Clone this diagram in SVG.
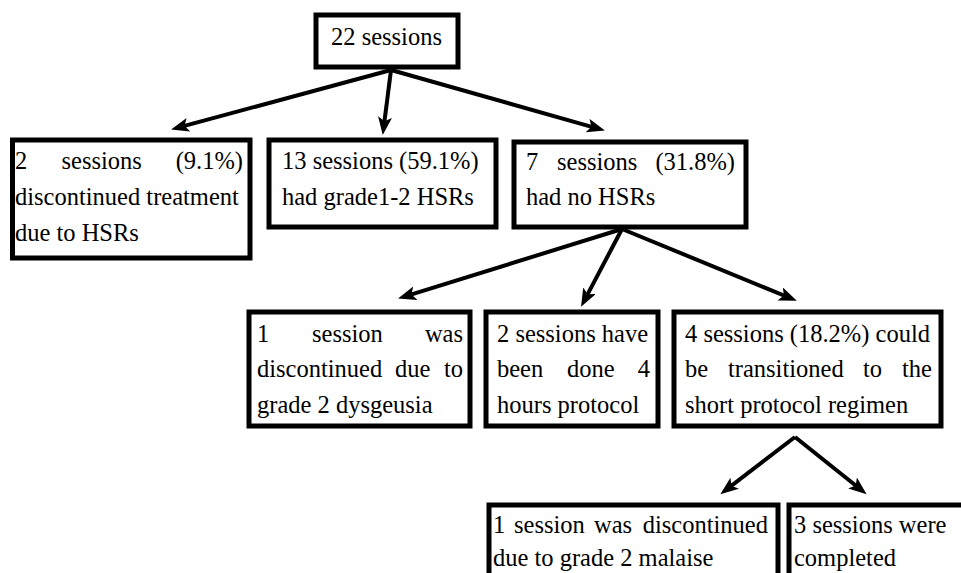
<svg xmlns="http://www.w3.org/2000/svg" width="961" height="573" viewBox="0 0 961 573">
<defs>
<style>
.box{fill:#fff;stroke:#000;stroke-width:5}
.t{font-family:"Liberation Serif","Times New Roman",serif;font-size:24.5px;fill:#000}
.e{text-anchor:end}
.c{fill:none;stroke:#000;stroke-width:4}
</style>
<marker id="ah" markerUnits="userSpaceOnUse" markerWidth="20" markerHeight="16" refX="8" refY="7" orient="auto">
<path d="M0,0 L18,7 L0,14 L4,7 z" fill="#000"/>
</marker>
</defs>
<rect width="961" height="573" fill="#fff"/>

<g id="connectors">
<line class="c" x1="391" y1="70" x2="180.7" y2="126.9" marker-end="url(#ah)"/>
<line class="c" x1="391" y1="70" x2="384" y2="125.1" marker-end="url(#ah)"/>
<line class="c" x1="391" y1="70" x2="595.3" y2="127.8" marker-end="url(#ah)"/>
<line class="c" x1="622" y1="229" x2="407.6" y2="295.6" marker-end="url(#ah)"/>
<line class="c" x1="622" y1="229" x2="585.7" y2="297.9" marker-end="url(#ah)"/>
<line class="c" x1="622" y1="229" x2="787.6" y2="297" marker-end="url(#ah)"/>
<line class="c" x1="795" y1="437" x2="728.3" y2="488.1" marker-end="url(#ah)"/>
<line class="c" x1="795" y1="437" x2="858.8" y2="488" marker-end="url(#ah)"/>
</g>

<g id="n0">
<rect class="box" x="316" y="15" width="142" height="52"/>
<text class="t" x="331" y="45">22 sessions</text>
</g>

<g id="n1">
<rect class="box" x="12.5" y="140" width="237.5" height="118"/>
<text class="t" x="15" y="169">2</text>
<text class="t" x="61.5" y="169">sessions</text>
<text class="t e" x="243" y="169">(9.1%)</text>
<text class="t" x="15" y="205">discontinued treatment</text>
<text class="t" x="15" y="241">due to HSRs</text>
</g>

<g id="n2">
<rect class="box" x="269" y="140" width="227" height="87"/>
<text class="t" x="282" y="169">13 sessions (59.1%)</text>
<text class="t" x="282" y="205">had grade1-2 HSRs</text>
</g>

<g id="n3">
<rect class="box" x="514" y="142" width="232" height="85"/>
<text class="t" x="526" y="170">7</text>
<text class="t" x="557" y="170">sessions</text>
<text class="t e" x="735" y="170">(31.8%)</text>
<text class="t" x="526" y="205">had no HSRs</text>
</g>

<g id="n4">
<rect class="box" x="249" y="312" width="221" height="114"/>
<text class="t" x="257" y="342">1</text>
<text class="t" x="312" y="342">session</text>
<text class="t e" x="463" y="342">was</text>
<text class="t" x="257" y="377">discontinued</text>
<text class="t" x="395" y="377">due</text>
<text class="t e" x="463" y="377">to</text>
<text class="t" x="257" y="413">grade 2 dysgeusia</text>
</g>

<g id="n5">
<rect class="box" x="486" y="312" width="172" height="114"/>
<text class="t" x="497" y="342">2 sessions have</text>
<text class="t" x="497" y="377">been</text>
<text class="t" x="567" y="377">done</text>
<text class="t e" x="650" y="377">4</text>
<text class="t" x="497" y="413">hours protocol</text>
</g>

<g id="n6">
<rect class="box" x="674" y="312" width="267" height="114"/>
<text class="t" x="685" y="342">4 sessions (18.2%) could</text>
<text class="t" x="685" y="377">be</text>
<text class="t" x="728" y="377">transitioned</text>
<text class="t" x="863" y="377">to</text>
<text class="t e" x="932" y="377">the</text>
<text class="t" x="685" y="413">short protocol regimen</text>
</g>

<g id="n7">
<rect class="box" x="489" y="505" width="289" height="90"/>
<text class="t" x="493" y="533">1</text>
<text class="t" x="514" y="533">session</text>
<text class="t" x="594" y="533">was</text>
<text class="t e" x="768" y="533">discontinued</text>
<text class="t" x="493" y="566">due to grade 2 malaise</text>
</g>

<g id="n8">
<rect class="box" x="789" y="505" width="190" height="90"/>
<text class="t" x="794" y="533">3 sessions were</text>
<text class="t" x="794" y="566">completed</text>
</g>
</svg>
